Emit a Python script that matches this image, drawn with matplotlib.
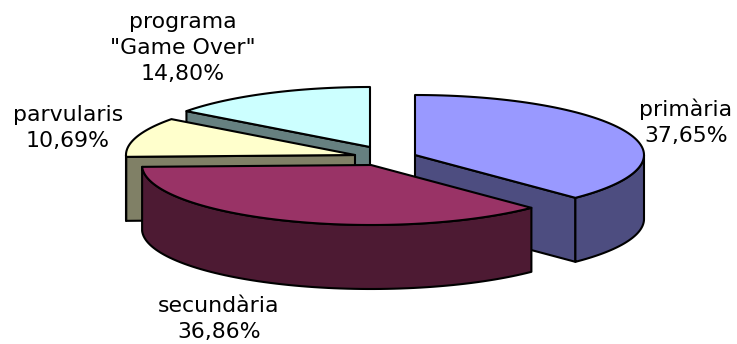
#!/usr/bin/env python
"""Exploded 3D pie, drawn by hand since matplotlib has no such pie."""
import numpy as np
import matplotlib
matplotlib.use("Agg")
import matplotlib.pyplot as plt
from matplotlib.patches import Polygon

categories = ["primària", "secundària", "parvularis", 'programa\n"Game Over"']
values = [37.65, 36.86, 10.69, 14.80]

top_colors = ["#9999FF", "#993366", "#FFFFCC", "#CCFFFF"]
side_colors = ["#4D4D80", "#4D1A33", "#808066", "#668080"]
# slice apex in pixels (exploded pie, each slice moved on its own)
apex = [(415, 155), (371, 165), (355, 155), (370, 147)]
label_pos = [(686, 122), (219, 319), (68, 128), (183, 48)]

RX, RY = 229, 60
DEPTH = 64


def rim(cx, cy, a0, a1, n=80):
    # angles clockwise from 12 o'clock, degrees
    t = np.radians(np.linspace(a0, a1, n))
    return np.column_stack([cx + RX * np.sin(t), cy - RY * np.cos(t)])


def down(pts):
    return pts + np.array([0, DEPTH])


fig = plt.figure(figsize=(7.37, 3.44), dpi=100)
ax = fig.add_axes([0, 0, 1, 1])
ax.set_xlim(0, 737)
ax.set_ylim(344, 0)
ax.axis("off")

edges = np.cumsum([0] + values) / sum(values) * 360
kw = dict(edgecolor="black", lw=1.5, joinstyle="round")

# back slices first, the two front ones overlap them
for z, i in enumerate([3, 2, 0, 1]):
    cx, cy = apex[i]
    a0, a1 = edges[i], edges[i + 1]
    arc = rim(cx, cy, a0, a1)
    c = np.array([[cx, cy]])

    # cut face along whichever radius looks at us
    if i != 1:
        end = arc[-1] if i == 0 else arc[0]
        face = np.vstack([c, [end], down(np.array([end])), down(c)])
        ax.add_patch(Polygon(face, facecolor=side_colors[i], zorder=z * 3, **kw))

    # outer wall, only the part below the ellipse's widest line
    lo, hi = max(a0, 90), min(a1, 270)
    if hi > lo:
        w = rim(cx, cy, lo, hi)
        wall = np.vstack([w, down(w)[::-1]])
        ax.add_patch(Polygon(wall, facecolor=side_colors[i], zorder=z * 3 + 1, **kw))

    ax.add_patch(Polygon(np.vstack([c, arc]), facecolor=top_colors[i], zorder=z * 3 + 2, **kw))

for name, v, (x, y) in zip(categories, values, label_pos):
    txt = f"{name}\n{v:.2f}%".replace(".", ",")
    ax.text(x, y, txt, ha="center", va="center", fontsize=15.8, color="black",
            family="DejaVu Sans", linespacing=1.39, zorder=20)

fig.savefig("out.png", dpi=100)
